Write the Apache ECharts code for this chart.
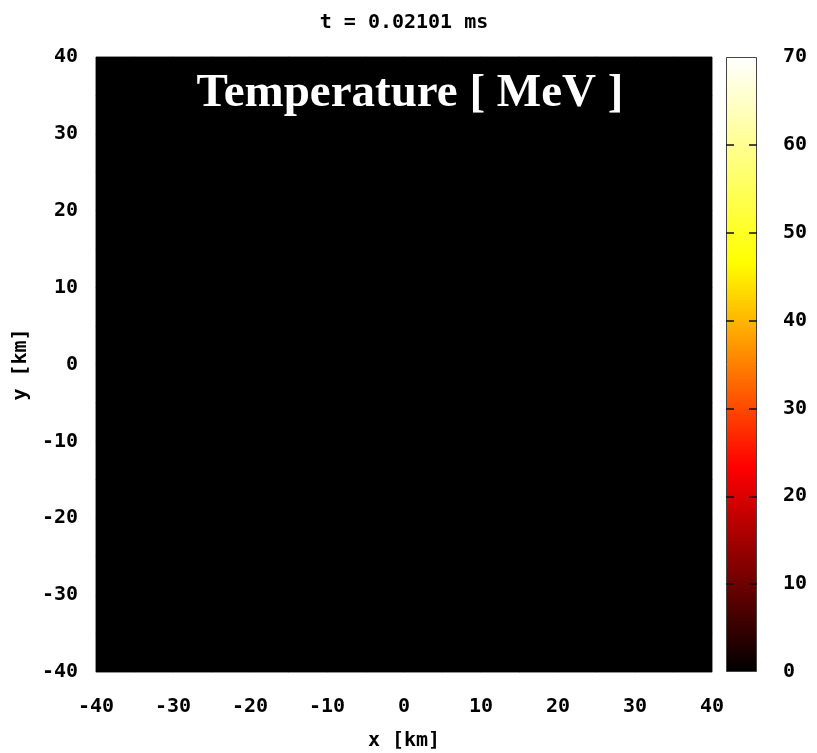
<!DOCTYPE html>
<html>
<head>
<meta charset="utf-8">
<script src="https://cdn.jsdelivr.net/npm/echarts@6/dist/echarts.min.js"></script>
<style>
  html, body { margin: 0; padding: 0; background: #fff; }
  #main { width: 817px; height: 753px; }
</style>
</head>
<body>
<div id="main"></div>
<script>
// tick values
var xTicks = [-40, -30, -20, -10, 0, 10, 20, 30, 40];
var yTicks = [-40, -30, -20, -10, 0, 10, 20, 30, 40];
var cbarTicks = [0, 10, 20, 30, 40, 50, 60, 70];
var cbarColors = ['#000000', '#ff0000', '#ffff00', '#ffffff']; // "hot" palette
var timeLabel = 't = 0.02101 ms';
var quantity = 'Temperature [ MeV ]';

// temperature map (MeV), 16 x 16 cells of 5 km, whole field still cold
var temperature = [
  [0,0,0,0,0,0,0,0,0,0,0,0,0,0,0,0],
  [0,0,0,0,0,0,0,0,0,0,0,0,0,0,0,0],
  [0,0,0,0,0,0,0,0,0,0,0,0,0,0,0,0],
  [0,0,0,0,0,0,0,0,0,0,0,0,0,0,0,0],
  [0,0,0,0,0,0,0,0,0,0,0,0,0,0,0,0],
  [0,0,0,0,0,0,0,0,0,0,0,0,0,0,0,0],
  [0,0,0,0,0,0,0,0,0,0,0,0,0,0,0,0],
  [0,0,0,0,0,0,0,0,0,0,0,0,0,0,0,0],
  [0,0,0,0,0,0,0,0,0,0,0,0,0,0,0,0],
  [0,0,0,0,0,0,0,0,0,0,0,0,0,0,0,0],
  [0,0,0,0,0,0,0,0,0,0,0,0,0,0,0,0],
  [0,0,0,0,0,0,0,0,0,0,0,0,0,0,0,0],
  [0,0,0,0,0,0,0,0,0,0,0,0,0,0,0,0],
  [0,0,0,0,0,0,0,0,0,0,0,0,0,0,0,0],
  [0,0,0,0,0,0,0,0,0,0,0,0,0,0,0,0],
  [0,0,0,0,0,0,0,0,0,0,0,0,0,0,0,0]
];

var MONO = '"DejaVu Sans Mono", "Liberation Mono", monospace';

// heatmap needs category axes, one slot per cell
var cellIdx = temperature[0].map(function (v, i) { return i; });
var heatData = [];
for (var r = 0; r < temperature.length; r++) {
  for (var c = 0; c < temperature[r].length; c++) {
    heatData.push([c, r, temperature[r][c]]);
  }
}
// inner colorbar ticks only (ends sit on the frame)
var cbarInnerTicks = cbarTicks.slice(1, cbarTicks.length - 1);

var chart = echarts.init(document.getElementById('main'), null, { renderer: 'canvas' });

var labelStyle = { color: '#000', fontFamily: MONO, fontWeight: 'bold', fontSize: 20 };

var option = {
  animation: false,
  backgroundColor: '#fff',
  title: {
    text: timeLabel,
    left: 399,
    top: 8,
    textAlign: 'center',
    textStyle: { color: '#000', fontFamily: MONO, fontWeight: 'bold', fontSize: 20 }
  },
  grid: [
    { left: 96, top: 57, width: 616, height: 615, outerBoundsMode: 'none', containLabel: false,
      show: true, backgroundColor: '#000', borderColor: '#888', borderWidth: 1 },
    { left: 726, top: 57, width: 31, height: 615, outerBoundsMode: 'none', containLabel: false }
  ],
  xAxis: [
    { // labelled km axis
      gridIndex: 0, type: 'value',
      min: xTicks[0], max: xTicks[xTicks.length - 1], interval: 10,
      name: 'x [km]', nameLocation: 'middle', nameGap: 59,
      nameTextStyle: labelStyle,
      axisLine: { show: false }, axisTick: { show: false }, splitLine: { show: false },
      axisLabel: Object.assign({ margin: 25 }, labelStyle)
    },
    { // cell slots for the heatmap
      gridIndex: 0, type: 'category', data: cellIdx, show: false
    },
    {
      gridIndex: 1, type: 'category', data: ['T'], show: false
    }
  ],
  yAxis: [
    {
      gridIndex: 0, type: 'value',
      min: yTicks[0], max: yTicks[yTicks.length - 1], interval: 10,
      name: 'y [km]', nameLocation: 'middle', nameGap: 44,
      nameTextStyle: labelStyle,
      axisLine: { show: false }, axisTick: { show: false }, splitLine: { show: false },
      axisLabel: Object.assign({ margin: 18 }, labelStyle)
    },
    {
      gridIndex: 0, type: 'category', data: cellIdx, show: false
    },
    { // colorbar, labels on the right
      gridIndex: 1, type: 'value', position: 'right', z: 10,
      min: cbarTicks[0], max: cbarTicks[cbarTicks.length - 1], interval: 10,
      axisLine: { show: false }, splitLine: { show: false },
      axisTick: { show: true, inside: true, length: 8, customValues: cbarInnerTicks,
                  lineStyle: { color: '#111', width: 1.5 } },
      axisLabel: Object.assign({ margin: 26 }, labelStyle)
    },
    { // colorbar, ticks on the left side
      gridIndex: 1, type: 'value', position: 'left', z: 10,
      min: cbarTicks[0], max: cbarTicks[cbarTicks.length - 1], interval: 10,
      axisLine: { show: false }, splitLine: { show: false },
      axisTick: { show: true, inside: true, length: 8, customValues: cbarInnerTicks,
                  lineStyle: { color: '#111', width: 1.5 } },
      axisLabel: { show: false }
    }
  ],
  visualMap: {
    show: false,
    type: 'continuous',
    seriesIndex: 0,
    min: cbarTicks[0],
    max: cbarTicks[cbarTicks.length - 1],
    inRange: { color: cbarColors }
  },
  series: [
    {
      type: 'heatmap',
      xAxisIndex: 1,
      yAxisIndex: 1,
      data: heatData,
      itemStyle: { borderWidth: 0 },
      z: 1
    },
    {
      type: 'bar',
      xAxisIndex: 2,
      yAxisIndex: 2,
      data: [cbarTicks[cbarTicks.length - 1]],
      barWidth: '100%',
      itemStyle: {
        borderColor: '#444',
        borderWidth: 1,
        color: new echarts.graphic.LinearGradient(0, 1, 0, 0, [
          { offset: 0, color: cbarColors[0] },
          { offset: 1 / 3, color: cbarColors[1] },
          { offset: 2 / 3, color: cbarColors[2] },
          { offset: 1, color: cbarColors[3] }
        ])
      },
      z: 1
    }
  ],
  graphic: [
    {
      type: 'text',
      z: 100,
      style: {
        text: quantity,
        x: 410,
        y: 94,
        fill: '#fff',
        font: 'bold 47px "Liberation Serif", "DejaVu Serif", serif',
        textAlign: 'center',
        textVerticalAlign: 'middle'
      }
    }
  ]
};

chart.setOption(option);
</script>
</body>
</html>
